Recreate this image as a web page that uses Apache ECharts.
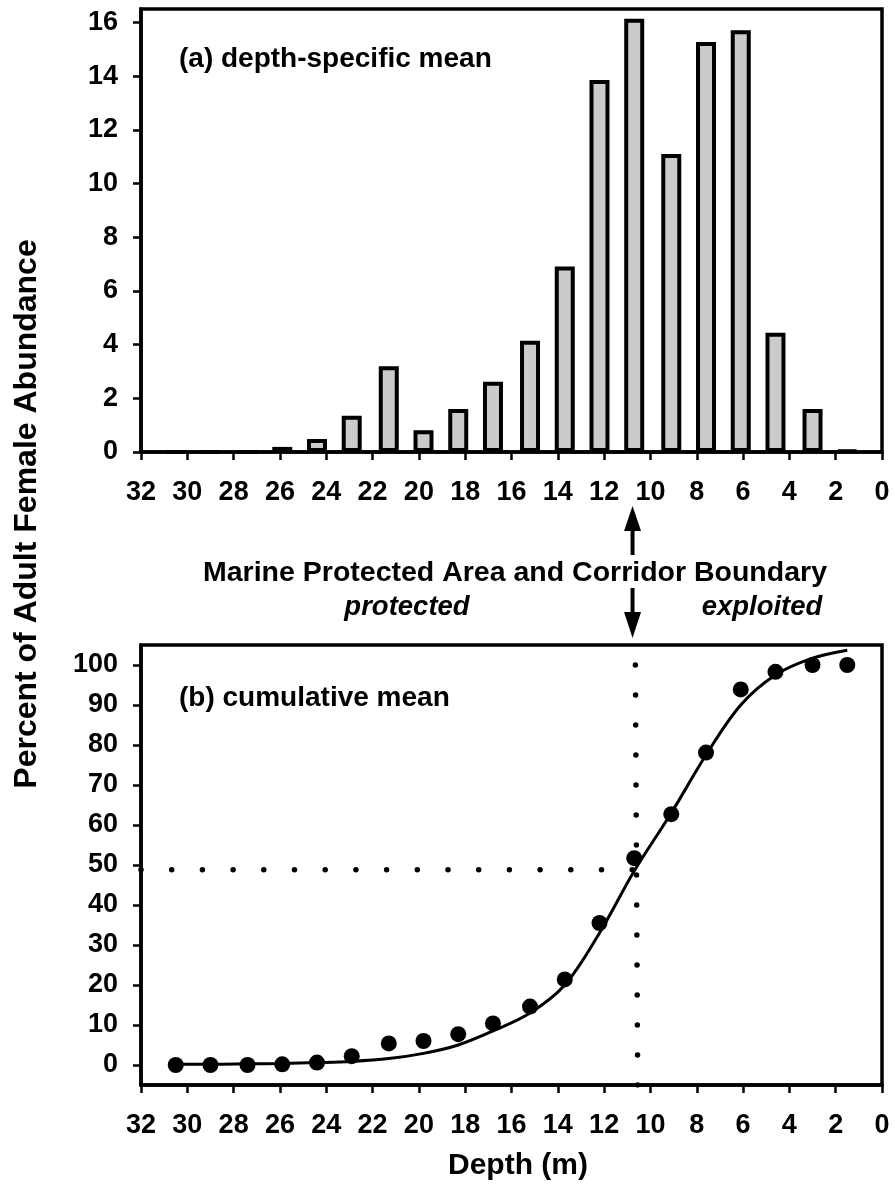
<!DOCTYPE html>
<html>
<head>
<meta charset="utf-8">
<script src="https://cdn.jsdelivr.net/npm/echarts@6/dist/echarts.min.js"></script>
<style>
html,body{margin:0;padding:0;background:#fff;}
#chart{width:895px;height:1196px;}
</style>
</head>
<body>
<div id="chart"></div>
<script>
// ---- data ----
const depthBins = [30.5, 29.0, 27.4, 25.9, 24.4, 22.9, 21.3, 19.8, 18.3, 16.8, 15.2, 13.7, 12.2, 10.7, 9.1, 7.6, 6.1, 4.6, 3.0, 1.5];
const depthMeans = [0, 0, 0, 0.19, 0.48, 1.35, 3.19, 0.81, 1.60, 2.62, 4.14, 6.91, 13.86, 16.14, 11.10, 15.27, 15.71, 4.44, 1.60, 0.05];
const cumulativeMeans = [0, 0, 0, 0.17, 0.6, 2.2, 5.4, 6.0, 7.7, 10.4, 14.6, 21.4, 35.5, 51.7, 62.7, 78.1, 93.9, 98.3, 100, 100];
const fitDepths = [30.5, 28.9, 27.4, 25.9, 24.4, 22.9, 21.3, 19.8, 18.3, 16.8, 15.2, 13.7, 12.2, 10.7, 9.1, 7.6, 6.1, 4.6, 3.0, 1.5];
const fitValues = [0.2, 0.2, 0.3, 0.4, 0.6, 0.9, 1.6, 2.9, 5.0, 8.5, 13.0, 20.0, 33.0, 48.5, 63.0, 77.5, 90.0, 97.5, 101.7, 103.7];
const boundaryDepth = 10.6;
const boundaryPercent = 48.8;
const depthTicks = [32, 30, 28, 26, 24, 22, 20, 18, 16, 14, 12, 10, 8, 6, 4, 2, 0];
const meanTicks = [0, 2, 4, 6, 8, 10, 12, 14, 16];
const percentTicks = [0, 10, 20, 30, 40, 50, 60, 70, 80, 90, 100];

const FONT = "'Liberation Sans', Arial, sans-serif";
const chart = echarts.init(document.getElementById('chart'), null, {renderer: 'canvas'});

const labelStyle = (margin) => ({color: '#000', fontWeight: 'bold', fontSize: 27, fontFamily: FONT, margin: margin});
const axisLine = {show: true, onZero: false, lineStyle: {color: '#000', width: 3.5}};
const tick = (vals) => ({show: true, inside: false, length: 8, lineStyle: {color: '#000', width: 2.5}, customValues: vals});

const xAxisCommon = (gi) => ({
  gridIndex: gi, type: 'value', inverse: true, min: 0, max: 32, interval: 2,
  axisLine: axisLine, axisTick: tick(depthTicks),
  axisLabel: Object.assign(labelStyle(27), {customValues: depthTicks}),
  splitLine: {show: false}
});

chart.setOption({
  animation: false,
  backgroundColor: '#fff',
  grid: [
    {left: 141, right: 13, top: 9, height: 443, show: true, borderColor: '#000', borderWidth: 3.5, containLabel: false},
    {left: 141, right: 13, top: 645, height: 440, show: true, borderColor: '#000', borderWidth: 3.5, containLabel: false}
  ],
  xAxis: [xAxisCommon(0), xAxisCommon(1)],
  yAxis: [
    {gridIndex: 0, type: 'value', min: 0, max: 16.5,
     axisLine: axisLine, axisTick: tick(meanTicks),
     axisLabel: Object.assign(labelStyle(23), {customValues: meanTicks}),
     splitLine: {show: false}},
    {gridIndex: 1, type: 'value', min: -5, max: 105,
     axisLine: axisLine, axisTick: tick(percentTicks),
     axisLabel: Object.assign(labelStyle(23), {customValues: percentTicks}),
     splitLine: {show: false}}
  ],
  series: [
    {type: 'bar', xAxisIndex: 0, yAxisIndex: 0, barWidth: 20,
     data: depthBins.map((d, i) => [d, depthMeans[i]]),
     itemStyle: {color: '#cbcbcb', borderColor: '#000', borderWidth: 4},
     z: 2},
    {type: 'line', xAxisIndex: 1, yAxisIndex: 1, symbol: 'none',
     data: [[32, boundaryPercent], [boundaryDepth, boundaryPercent]],
     lineStyle: {color: '#000', width: 5.5, type: [0, 30.7], cap: 'round'}, z: 3},
    {type: 'line', xAxisIndex: 1, yAxisIndex: 1, symbol: 'none',
     data: [[boundaryDepth - 0.05, -5], [boundaryDepth + 0.05, 100]],
     lineStyle: {color: '#000', width: 5.5, type: [0, 30], cap: 'round'}, z: 3},
    {type: 'line', xAxisIndex: 1, yAxisIndex: 1, symbol: 'none', smooth: 0.35,
     data: fitDepths.map((d, i) => [d, fitValues[i]]),
     lineStyle: {color: '#000', width: 3}, z: 4},
    {type: 'scatter', xAxisIndex: 1, yAxisIndex: 1, symbol: 'circle', symbolSize: 16,
     data: depthBins.map((d, i) => [d, cumulativeMeans[i]]),
     itemStyle: {color: '#000', opacity: 1}, z: 5}
  ]
});

const ax = chart.convertToPixel({xAxisIndex: 0}, boundaryDepth) - 4;
const txt = (x, y, text, font, align, rot) => ({
  type: 'text', x: x, y: y, rotation: rot || 0, silent: true,
  style: {text: text, font: font, fill: '#000', align: align || 'center', verticalAlign: 'middle'}
});
chart.setOption({
  graphic: [
    txt(179, 59, '(a) depth-specific mean', 'bold 28px ' + FONT, 'left'),
    txt(179, 698, '(b) cumulative mean', 'bold 28px ' + FONT, 'left'),
    txt(27, 514, 'Percent of Adult Female Abundance', 'bold 32px ' + FONT, 'center', Math.PI / 2),
    txt(518, 1166, 'Depth (m)', 'bold 30px ' + FONT, 'center'),
    txt(515, 573, 'Marine Protected Area and Corridor Boundary', 'bold 28.5px ' + FONT, 'center'),
    txt(407, 607, 'protected', 'italic bold 27.5px ' + FONT, 'center'),
    txt(762, 607, 'exploited', 'italic bold 27.5px ' + FONT, 'center'),
    {type: 'line', shape: {x1: ax, y1: 555, x2: ax, y2: 526}, style: {stroke: '#000', lineWidth: 4}},
    {type: 'polygon', shape: {points: [[ax, 506], [ax - 8.5, 531], [ax + 8.5, 531]]}, style: {fill: '#000'}},
    {type: 'line', shape: {x1: ax, y1: 588, x2: ax, y2: 617}, style: {stroke: '#000', lineWidth: 4}},
    {type: 'polygon', shape: {points: [[ax, 638], [ax - 8.5, 612], [ax + 8.5, 612]]}, style: {fill: '#000'}}
  ]
});
</script>
</body>
</html>
